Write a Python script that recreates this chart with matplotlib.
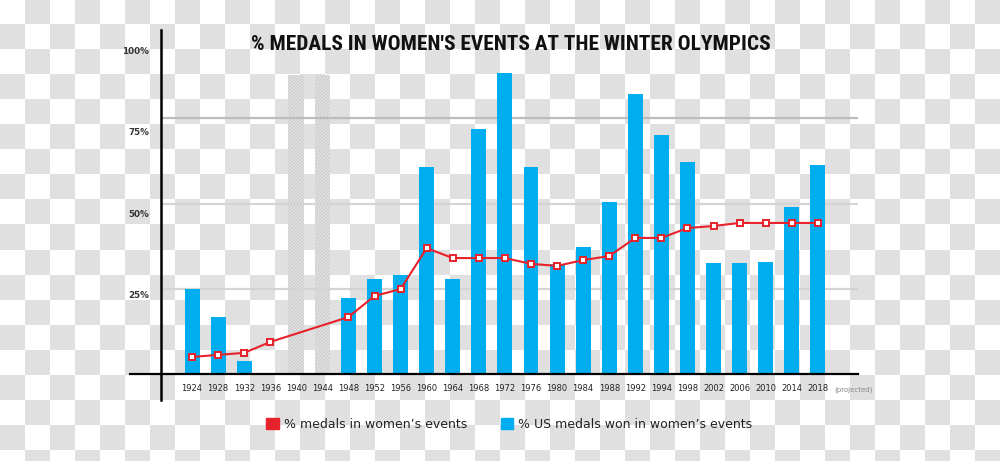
import numpy as np
import matplotlib
matplotlib.use("Agg")
import matplotlib.pyplot as plt
from matplotlib.patches import Patch
from matplotlib import font_manager

# data (percent)
years = ['1924', '1928', '1932', '1936', '1940', '1944', '1948', '1952', '1956', '1960',
         '1964', '1968', '1972', '1976', '1980', '1984', '1988', '1992', '1994', '1998',
         '2002', '2006', '2010', '2014', '2018']
us_women = [24.9, 16.7, 3.8, np.nan, np.nan, np.nan, 22.3, 27.9, 29.0, 60.7,
            27.9, 71.8, 88.3, 60.7, 32.3, 37.2, 50.4, 82.1, 70.1, 62.2,
            32.6, 32.6, 32.8, 49.0, 61.3]
women_events = [5.0, 5.6, 6.2, 9.4, np.nan, np.nan, 16.7, 22.9, 24.9, 36.9,
                34.0, 34.0, 34.0, 32.3, 31.7, 33.4, 34.6, 39.9, 39.9, 42.8,
                43.4, 44.3, 44.3, 44.3, 44.3]
no_games = ['1940', '1944']
no_games_height = 87.7

ytick_vals = [23.2, 47.2, 71.0, 95.0]
ytick_labels = ['25%', '50%', '75%', '100%']

RED = '#e8222b'
BLUE = '#00aeef'


def checkerBoard(w, h, size):
    yy, xx = np.mgrid[0:h, 0:w]
    odd = ((xx // size + yy // size) % 2) == 1
    img = np.ones((h, w, 3))
    img[odd] = 224 / 255
    return img


def narrowFont():
    names = {f.name for f in font_manager.fontManager.ttflist}
    for n in ['Liberation Sans Narrow', 'DejaVu Sans Condensed', 'Roboto Condensed']:
        if n in names:
            return n
    return 'DejaVu Sans'


def main():
    fig = plt.figure(figsize=(10, 4.61), dpi=100)

    bg = fig.add_axes([0, 0, 1, 1], zorder=-10)
    bg.imshow(checkerBoard(1000, 461, 25), interpolation='nearest', aspect='auto')
    bg.axis('off')

    ax = fig.add_axes([0.161, 1 - 374 / 461, 0.697, 344 / 461])
    ax.patch.set_alpha(0)
    x = np.arange(len(years))
    ax.set_xlim(-1.189, 25.54)
    ax.set_ylim(0, 100.88)

    # greyed out columns for the cancelled games
    war_idx = [years.index(y) for y in no_games]
    ax.bar(war_idx, [no_games_height] * len(war_idx), width=0.6, color='#e8e8e8',
           hatch='//////////', edgecolor='#cdcdcd', linewidth=0, zorder=1)

    ax.axhline(75, xmin=0, xmax=1, color='#bcbcbc', lw=1.6, zorder=2)
    for g in [25, 50]:
        ax.axhline(g, xmin=0, xmax=1, color='#d4d4d4', lw=1.6, zorder=2)

    ax.bar(x, us_women, width=0.575, color=BLUE, zorder=3)

    ev = np.array(women_events)
    ok = ~np.isnan(ev)
    ax.plot(x[ok], ev[ok], color=RED, lw=1.5, marker='s', markersize=5,
            markerfacecolor='white', markeredgecolor=RED, markeredgewidth=1.4, zorder=4)

    # axis lines
    for s in ax.spines.values():
        s.set_visible(False)
    ax.axhline(0, xmin=-31 / 697, xmax=1, color='black', lw=1.6, clip_on=False, zorder=5)
    ax.axvline(-1.189, ymin=-26 / 344, ymax=1, color='black', lw=1.8, clip_on=False, zorder=5)

    ax.set_xticks(x)
    ax.set_xticklabels(years, fontsize=6, color='#222222')
    ax.set_yticks(ytick_vals)
    ax.set_yticklabels(ytick_labels, fontsize=6.3, color='#333333', fontweight='semibold')
    ax.tick_params(axis='x', length=0, pad=7.5)
    ax.tick_params(axis='y', length=0, pad=8.5)

    ax.annotate('(projected)', xy=(24.65, 0), xycoords=('data', 'axes fraction'),
                xytext=(0, -11.5), textcoords='offset points', ha='left', va='center',
                fontsize=5, color='#888888')

    title = fig.text(0.5105, 1 - 44 / 461, "% MEDALS IN WOMEN'S EVENTS AT THE WINTER OLYMPICS",
                     ha='center', va='center', fontsize=20, fontweight='bold',
                     family=[narrowFont(), 'DejaVu Sans'], color='#111111')
    # shrink the title until it is as wide as in the original (~520 px)
    r = fig.canvas.get_renderer()
    w = title.get_window_extent(r).width
    title.set_fontsize(min(20, 20 * 520 / w))

    handles = [Patch(color=RED), Patch(color=BLUE)]
    fig.legend(handles, ['% medals in women\u2019s events', '% US medals won in women\u2019s events'],
               loc='center', bbox_to_anchor=(0.5095, 1 - 424 / 461), ncol=2, frameon=False,
               fontsize=9, handlelength=1.0, handleheight=1.0, handletextpad=0.4,
               columnspacing=2.7, labelcolor='#222222')

    fig.savefig('out.png', dpi=100)


if __name__ == "__main__":
    main()
